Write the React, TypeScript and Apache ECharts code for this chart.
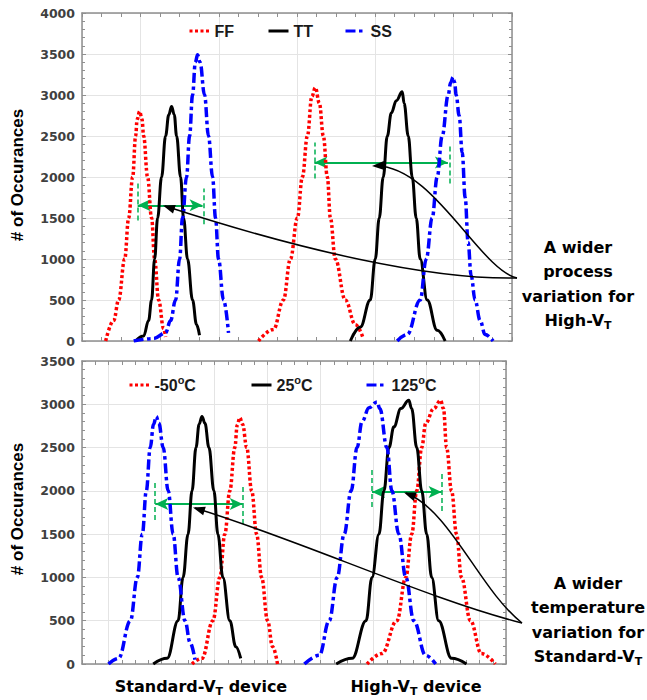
import React, { useEffect, useRef } from "react";
import * as echarts from "echarts";

// ---------- data (x in axis units, y = # of occurrences) ----------
// Top panel: process corners
const ffStd = [[0.553,0],[0.655,250],[0.719,500],[0.796,1000],[0.847,1500],[0.898,2000],[0.936,2500],[0.955,2700],[0.987,2800],[1.018,2700],[1.038,2500],[1.089,2000],[1.14,1500],[1.179,1000],[1.23,500],[1.294,150],[1.319,50]];
const ttStd = [[0.936,0],[1.038,60],[1.102,250],[1.14,500],[1.179,1000],[1.217,1500],[1.268,2000],[1.319,2500],[1.36,2760],[1.396,2860],[1.43,2760],[1.46,2500],[1.511,2000],[1.549,1500],[1.6,1000],[1.664,500],[1.715,200],[1.753,70]];
const ssStd = [[0.911,0],[1.166,30],[1.319,100],[1.383,250],[1.447,500],[1.498,1000],[1.536,1500],[1.587,2000],[1.626,2500],[1.664,3000],[1.7,3400],[1.728,3490],[1.76,3400],[1.817,3000],[1.868,2500],[1.92,2000],[1.958,1500],[1.996,1000],[2.06,500],[2.124,100]];
const ffHigh = [[2.507,0],[2.699,140],[2.826,500],[2.916,1000],[3.005,1500],[3.069,2000],[3.133,2500],[3.19,2980],[3.235,3090],[3.286,2900],[3.337,2500],[3.388,2000],[3.427,1500],[3.49,1000],[3.618,500],[3.746,200],[3.848,30]];
const ttHigh = [[3.682,0],[3.81,170],[3.937,500],[4.001,1000],[4.052,1500],[4.103,2000],[4.155,2500],[4.206,2780],[4.27,2930],[4.346,3040],[4.37,2900],[4.423,2500],[4.474,2000],[4.525,1500],[4.576,1000],[4.665,500],[4.793,130],[4.895,0]];
const ssHigh = [[4.282,0],[4.41,80],[4.576,500],[4.653,1000],[4.729,1500],[4.793,2000],[4.857,2500],[4.934,3000],[4.965,3150],[4.997,3220],[5.015,3160],[5.036,3000],[5.074,2750],[5.113,2300],[5.151,1750],[5.189,1200],[5.227,800],[5.278,500],[5.342,250],[5.406,80],[5.508,0]];

// Bottom panel: temperatures
const m50Std = [[2.576,0],[2.764,65],[2.97,500],[3.101,1000],[3.195,1500],[3.289,2000],[3.383,2500],[3.43,2760],[3.477,2846],[3.53,2770],[3.608,2500],[3.702,2000],[3.795,1500],[3.889,1000],[4.002,500],[4.096,200],[4.189,0]];
const p25Std = [[1.844,0],[2.107,65],[2.313,500],[2.407,1000],[2.501,1500],[2.576,2000],[2.651,2500],[2.71,2770],[2.764,2860],[2.82,2780],[2.895,2500],[2.989,2000],[3.064,1500],[3.158,1000],[3.289,500],[3.402,200],[3.495,65]];
const p125Std = [[1.0,0],[1.188,65],[1.413,500],[1.544,1000],[1.638,1500],[1.713,2000],[1.788,2500],[1.85,2770],[1.901,2860],[1.95,2780],[2.032,2500],[2.126,2000],[2.22,1500],[2.313,1000],[2.445,500],[2.538,250],[2.632,50]];
const m50High = [[5.878,0],[6.159,120],[6.441,500],[6.61,1000],[6.722,1500],[6.816,2000],[6.91,2500],[6.985,2780],[7.135,2950],[7.266,3046],[7.32,2950],[7.379,2500],[7.473,2000],[7.567,1500],[7.66,1000],[7.829,500],[8.036,120],[8.298,0]];
const p25High = [[5.296,0],[5.597,65],[5.859,500],[5.972,1000],[6.103,1500],[6.197,2000],[6.291,2500],[6.385,2740],[6.516,2950],[6.666,3046],[6.72,2950],[6.816,2500],[6.91,2000],[7.004,1500],[7.098,1000],[7.229,500],[7.473,65],[7.754,0]];
const p125High = [[4.696,0],[4.977,100],[5.165,500],[5.315,1000],[5.447,1500],[5.578,2000],[5.69,2500],[5.784,2800],[5.916,2960],[6.066,3027],[6.12,2950],[6.253,2500],[6.347,2000],[6.478,1500],[6.61,1000],[6.76,500],[6.985,100],[7.173,0]];

// spread arrows: [from, to, level]; end markers: [x, yLow, yHigh]
const spreadTop = [[0.962, 1.792, 1654], [3.222, 4.93, 2177]];
const markTop = [[0.962, 1471, 1921], [1.805, 1423, 1860], [3.222, 1982, 2420], [4.953, 1921, 2383]];
const spreadBot = [[1.882, 3.533, 1848], [5.972, 7.285, 1987]];
const markBot = [[1.882, 1663, 2091], [3.533, 1617, 2044], [5.972, 1813, 2241], [7.285, 1767, 2195]];

const topY = { min: 0, max: 4000, step: 500 };
const botY = { min: 0, max: 3500, step: 500 };
const topX = { min: 0.25, max: 5.75 };
const botX = { min: 0.5, max: 8.5 };

const legendTop = ["FF", "TT", "SS"];
const legendBot = ["-50°C", "25°C", "125°C"];

// ---------- styles ----------
const RED = "#ff0000";
const BLUE = "#0000ff";
const BLACK = "#000000";
const GREEN = "#00b050";
const AXIS = "#8f8f8f";
const GRIDC = "#e4e4e4";

const styleFF = { color: RED, width: 3.5, type: [3, 2.5] as any };
const styleTT = { color: BLACK, width: 3, type: "solid" as any };
const styleSS = { color: BLUE, width: 3.5, type: [10, 3.5, 3.5, 3.5] as any };

function head(tx: number, ty: number, fx: number, fy: number, len = 12, half = 4.5) {
  const dx = tx - fx, dy = ty - fy;
  const d = Math.hypot(dx, dy);
  const ux = dx / d, uy = dy / d;
  const bx = tx - ux * len, by = ty - uy * len;
  return {
    type: "polygon",
    z: 20,
    shape: { points: [[tx, ty], [bx - uy * half, by + ux * half], [bx + uy * half, by - ux * half]] },
    style: { fill: "#000" },
  };
}

function curve(x1: number, y1: number, c1x: number, c1y: number, c2x: number, c2y: number, x2: number, y2: number) {
  return {
    type: "bezierCurve",
    z: 20,
    shape: { x1, y1, cpx1: c1x, cpy1: c1y, cpx2: c2x, cpy2: c2y, x2, y2 },
    style: { stroke: "#000", lineWidth: 1.5, fill: null },
  };
}

const subRich = { sub: { fontSize: 11, fontWeight: "bold", fontFamily: "DejaVu Sans", padding: [11, 0, 0, 0] } };

function label(x: number, y: number, text: string) {
  return {
    type: "text",
    z: 20,
    x,
    y,
    style: {
      text,
      fontSize: 16,
      fontWeight: "bold",
      fontFamily: "DejaVu Sans",
      fill: "#000",
      align: "center",
      verticalAlign: "middle",
      rich: subRich,
    },
  };
}

function xTickAxis(gridIndex: number, position: string, r: { min: number; max: number }) {
  return {
    type: "value",
    gridIndex,
    position,
    min: r.min,
    max: r.max,
    interval: 0.25,
    axisLine: { show: true, onZero: false, lineStyle: { color: AXIS, width: 1.5 } },
    axisTick: { show: true, inside: true, length: 4, lineStyle: { color: AXIS, width: 1 } },
    axisLabel: { show: false },
    splitLine: { show: false },
  };
}

function xGridAxis(gridIndex: number, r: { min: number; max: number }, splitNumber: number) {
  return {
    type: "value",
    gridIndex,
    position: "bottom",
    min: r.min,
    max: r.max,
    splitNumber,
    axisLine: { show: false, onZero: false },
    axisTick: { show: false },
    axisLabel: { show: false },
    splitLine: { show: true, lineStyle: { color: GRIDC, width: 1 } },
  };
}

function yAxis(gridIndex: number, position: string, r: { min: number; max: number; step: number }, labels: boolean) {
  return {
    type: "value",
    gridIndex,
    position,
    min: r.min,
    max: r.max,
    interval: r.step,
    axisLine: { show: true, onZero: false, lineStyle: { color: AXIS, width: 1.5 } },
    axisTick: { show: true, inside: true, length: 4, lineStyle: { color: AXIS, width: 1 } },
    minorTick: { show: true, splitNumber: 5, length: 3, lineStyle: { color: AXIS, width: 1 } },
    axisLabel: labels
      ? {
          show: true,
          margin: 7,
          color: "#404040",
          fontWeight: "bold",
          fontSize: 12.5,
          fontFamily: "DejaVu Sans",
          formatter: (v: number) => String(v),
        }
      : { show: false },
    splitLine: { show: labels, lineStyle: { color: GRIDC, width: 1 } },
  };
}

function curveSeries(name: string, data: number[][], ls: any, xi: number, yi: number) {
  return {
    name,
    type: "line",
    xAxisIndex: xi,
    yAxisIndex: yi,
    data,
    smooth: 0.4,
    smoothMonotone: "x",
    symbol: "none",
    showSymbol: false,
    lineStyle: ls,
    itemStyle: { color: ls.color },
    z: 5,
  };
}

function annSeries(xi: number, yi: number, spreads: number[][], marks: number[][]) {
  const data: any[] = [];
  spreads.forEach(([a, b, y]) => {
    data.push([
      { coord: [a, y], symbol: "arrow", symbolSize: [9, 13], lineStyle: { color: GREEN, width: 2, type: "solid" } },
      { coord: [b, y], symbol: "arrow", symbolSize: [9, 13] },
    ]);
  });
  marks.forEach(([x, y1, y2]) => {
    data.push([
      { coord: [x, y1], symbol: "none", lineStyle: { color: GREEN, width: 1.5, type: [5, 3] } },
      { coord: [x, y2], symbol: "none" },
    ]);
  });
  return {
    type: "line",
    xAxisIndex: xi,
    yAxisIndex: yi,
    data: [],
    symbol: "none",
    z: 8,
    markLine: {
      silent: true,
      animation: false,
      symbol: ["none", "none"],
      label: { show: false },
      itemStyle: { color: GREEN },
      lineStyle: { color: GREEN },
      emphasis: { disabled: true },
      data,
    },
  };
}

const legendText = {
  fontFamily: "Liberation Sans",
  fontWeight: "bold",
  fontSize: 16,
  color: "#1a1a1a",
  rich: { s: { fontFamily: "Liberation Sans", fontWeight: "bold", fontSize: 11, color: "#1a1a1a", padding: [0, 0, 11, 0] } },
};

function legend(name: string, left: number, top: number) {
  return {
    data: [name],
    left,
    top,
    padding: 0,
    itemWidth: 20,
    itemHeight: 12,
    itemGap: 0,
    selectedMode: false,
    lineStyle: { width: 3 },
    itemStyle: { opacity: 0 },
    textStyle: legendText,
    formatter: (n: string) => n.replace("°", "{s|o}"),
  };
}

export default function App() {
  const ref = useRef<HTMLDivElement>(null);

  useEffect(() => {
    if (!ref.current) return;
    const chart = echarts.init(ref.current, undefined, { renderer: "svg" });

    const option: any = {
      animation: false,
      backgroundColor: "#ffffff",
      grid: [
        { left: 82, top: 13, width: 430, height: 328 },
        { left: 82, top: 361, width: 424, height: 303 },
      ],
      xAxis: [
        xTickAxis(0, "bottom", topX),
        xTickAxis(0, "top", topX),
        xGridAxis(0, topX, 5),
        xTickAxis(1, "bottom", botX),
        xTickAxis(1, "top", botX),
        xGridAxis(1, botX, 8),
      ],
      yAxis: [yAxis(0, "left", topY, true), yAxis(0, "right", topY, false), yAxis(1, "left", botY, true), yAxis(1, "right", botY, false)],
      legend: [
        legend(legendTop[0], 188, 23),
        legend(legendTop[1], 267, 23),
        legend(legendTop[2], 344, 23),
        legend(legendBot[0], 128, 374),
        legend(legendBot[1], 250, 374),
        legend(legendBot[2], 365, 374),
      ],
      series: [
        curveSeries(legendTop[0], ffStd, styleFF, 0, 0),
        curveSeries(legendTop[0], ffHigh, styleFF, 0, 0),
        curveSeries(legendTop[1], ttStd, styleTT, 0, 0),
        curveSeries(legendTop[1], ttHigh, styleTT, 0, 0),
        curveSeries(legendTop[2], ssStd, styleSS, 0, 0),
        curveSeries(legendTop[2], ssHigh, styleSS, 0, 0),
        annSeries(0, 0, spreadTop, markTop),
        curveSeries(legendBot[0], m50Std, styleFF, 3, 2),
        curveSeries(legendBot[0], m50High, styleFF, 3, 2),
        curveSeries(legendBot[1], p25Std, styleTT, 3, 2),
        curveSeries(legendBot[1], p25High, styleTT, 3, 2),
        curveSeries(legendBot[2], p125Std, styleSS, 3, 2),
        curveSeries(legendBot[2], p125High, styleSS, 3, 2),
        annSeries(3, 2, spreadBot, markBot),
      ],
      graphic: [
        // y-axis titles
        {
          type: "text", x: 17, y: 175, rotation: Math.PI / 2, z: 20,
          style: { text: "# of Occurances", fontSize: 17, fontWeight: "bold", fontFamily: "Liberation Sans", fill: "#000", align: "center", verticalAlign: "middle" },
        },
        {
          type: "text", x: 17, y: 509, rotation: Math.PI / 2, z: 20,
          style: { text: "# of Occurances", fontSize: 17, fontWeight: "bold", fontFamily: "Liberation Sans", fill: "#000", align: "center", verticalAlign: "middle" },
        },
        // top annotation arrows
        curve(517, 278, 430, 280, 300, 250, 165, 206),
        head(163, 205.5, 300, 250),
        curve(517, 278, 480, 270, 432, 164, 375, 166),
        head(372, 166, 432, 164),
        // bottom annotation arrows
        curve(522, 623, 430, 600, 300, 540, 195, 508),
        head(193, 507.5, 300, 540),
        curve(522, 623, 480, 590, 450, 510, 406, 493),
        head(404, 492.5, 450, 510),
        // annotation texts
        label(578, 247, "A wider"),
        label(578, 271, "process"),
        label(578, 296, "variation for"),
        label(578, 320, "High-V{sub|T}"),
        label(588, 583, "A wider"),
        label(588, 607, "temperature"),
        label(588, 632, "variation for"),
        label(588, 656, "Standard-V{sub|T}"),
        // device labels
        label(201, 686, "Standard-V{sub|T} device"),
        label(416, 686, "High-V{sub|T} device"),
      ],
    };

    chart.setOption(option);
    return () => chart.dispose();
  }, []);

  return <div ref={ref} style={{ position: "absolute", left: 0, top: 0, width: 647, height: 700 }} />;
}
